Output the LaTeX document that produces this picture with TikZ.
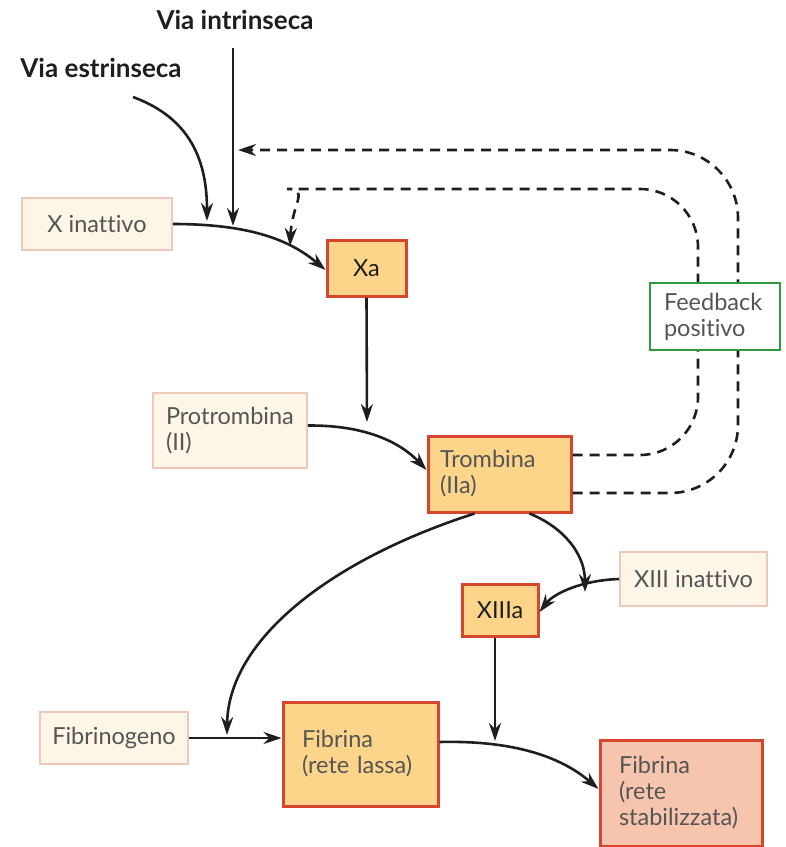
\documentclass[tikz,border=0pt]{standalone}
\usepackage{fontspec}
\setmainfont{Lato}[Ligatures=NoCommon]
\usetikzlibrary{arrows.meta}
\definecolor{palefill}{HTML}{FDF6E6}
\definecolor{paleline}{HTML}{EEC9B9}
\definecolor{actfill}{HTML}{FCD58B}
\definecolor{actline}{HTML}{D6452C}
\definecolor{stabfill}{HTML}{F7C4AE}
\definecolor{fbline}{HTML}{2F9A3F}
\definecolor{txt}{HTML}{555555}
\definecolor{ink}{HTML}{1E1E1E}

\tikzset{
  box/.style={rectangle, inner xsep=12pt, inner ysep=0pt,
    font=\fontsize{23.5}{26}\selectfont, text=txt, align=left},
  pale/.style={box, draw=paleline, fill=palefill, line width=1.6pt},
  active/.style={box, draw=actline, fill=actfill, line width=3pt},
  stab/.style={active, fill=stabfill},
  fbbox/.style={box, draw=fbline, fill=white, line width=2.6pt},
  flow/.style={line width=2.6pt, draw=ink, -{Stealth[length=18pt,width=12pt]}},
  fback/.style={flow, dash pattern=on 10pt off 7pt},
  via/.style={font=\fontsize{26}{30}\selectfont\bfseries, text=ink},
}

\begin{document}
\begin{tikzpicture}[x=1pt,y=-1pt]
\useasboundingbox (0,0) rectangle (786,847);

% pathway labels
\node[via] (vi) at (235,20) {Via intrinseca};
\node[via] (ve) at (101,68) {Via estrinseca};

% factors
\node[pale, minimum width=150pt, minimum height=52pt, align=center] (xin) at (97,224) {X inattivo};
\node[active, minimum width=79pt, minimum height=56pt, align=center, text=ink] (xa) at (366.5,268) {Xa};
\node[pale, text width=128pt, inner xsep=13pt, minimum height=75pt] (pro) at (230,430.5) {Protrombina\\(II)};
\node[active, text width=119pt, inner xsep=12pt, minimum height=76pt] (tro) at (499.5,474) {Trombina\\(IIa)};
\node[pale, minimum width=147pt, minimum height=54pt, align=center] (x13in) at (693.5,579) {XIII inattivo};
\node[active, minimum width=76pt, minimum height=52pt, align=center, text=ink] (x13a) at (500,610) {XIIIa};
\node[pale, minimum width=144pt, minimum height=52pt, align=center] (fgen) at (114,738) {Fibrinogeno};
\node[active, text width=117pt, inner xsep=19pt, minimum height=104pt] (flas) at (360.5,754) {Fibrina\\(rete lassa)};
\node[stab, text width=124pt, inner xsep=19pt, minimum height=106pt] (fstab) at (681,793) {Fibrina\\(rete\\stabilizzata)};

% free ends of the connectors
\coordinate (veStart) at (133,97);
\coordinate (veEnd) at (207,221);
\coordinate (viStart) at (233,48);
\coordinate (viEnd) at (233,226);
\coordinate (xaEnd) at (367,422);
\coordinate (x13End) at (585,592);
\coordinate (fgenEnd) at (227,735);
\coordinate (x13aEnd) at (495,741);
\coordinate (fbOuterEnd) at (238,150);
\coordinate (fbInnerEnd) at (290,246);

% positive feedback loops from thrombin
\draw[fback, rounded corners=68pt] ([yshift=-19pt]tro.east) -- (738,493) -- (738,150) -- (fbOuterEnd);
\draw[fback] ([yshift=19pt]tro.east) [rounded corners=58pt] -- (698,455) -- (698,189) -- (345,189)
  [sharp corners] .. controls (310,189) and (292,203) .. (fbInnerEnd);
\node[fbbox, text width=102pt, inner xsep=14pt, minimum height=67pt] (fb) at (715,316.5) {Feedback\\positivo};

% activation cascade
\draw[flow] (veStart) .. controls (190,118) and (207,160) .. (veEnd);
\draw[flow] (viStart) -- (viEnd);
\draw[flow] (xin.east) .. controls (250,224) and (290,240) .. ([yshift=-2pt]xa.west);
\draw[flow] (xa.south) -- (xaEnd);
\draw[flow] ([yshift=5pt]pro.east) .. controls (365,425) and (400,442) .. ([yshift=4pt]tro.west);
\draw[flow] ([xshift=30pt]tro.south) .. controls (565,528) and (585,555) .. (x13End);
\draw[flow] (x13in.west) .. controls (585,580) and (555,592) .. ([yshift=-2pt]x13a.east);
\draw[flow] ([xshift=-25pt]tro.south) .. controls (330,560) and (228,640) .. (fgenEnd);
\draw[flow] (fgen.east) -- (fgen.east -| flas.west);
\draw[flow] (x13a.south -| x13aEnd) -- (x13aEnd);
\draw[flow] ([yshift=12pt]flas.east) .. controls (520,740) and (565,760) .. ([yshift=4pt]fstab.west);
\end{tikzpicture}
\end{document}
